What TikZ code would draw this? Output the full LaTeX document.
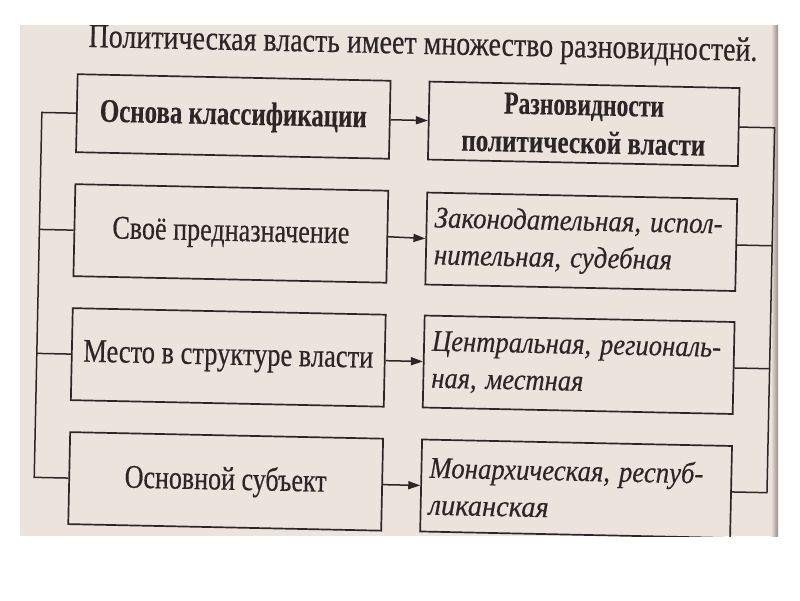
\documentclass[tikz,border=0pt]{standalone}
\usepackage{fontspec}
\setmainfont{Liberation Serif}[UprightFeatures={FakeBold=0.5}, ItalicFeatures={FakeBold=0.4}, BoldFeatures={FakeBold=0.3}]
\usepackage{graphicx}
\usetikzlibrary{arrows.meta}
\definecolor{paper}{RGB}{236,227,221}
\definecolor{ink}{RGB}{45,38,38}
\definecolor{edgeshade}{RGB}{150,140,136}
\newcommand\fitw[2]{\resizebox{#1}{\height}{#2}}
\begin{document}
\begin{tikzpicture}[x=1pt,y=-1pt,
  every node/.style={text=ink},
  lbox/.style={draw=ink, line width=1.7pt, minimum width=313pt, minimum height=92pt, inner sep=0pt, font=\fontsize{33}{38}\selectfont},
  rbox/.style={draw=ink, line width=1.7pt, minimum width=310pt, minimum height=92pt, inner xsep=8pt, inner ysep=0pt},
  itbox/.style={rbox, text width=294pt, align=left, font=\fontsize{30}{37}\selectfont\itshape},
  conn/.style={draw=ink, line width=1.5pt},
  arr/.style={conn, -{Triangle[length=12pt,width=8pt]}}
]
\fill[white] (0,0) rectangle (800,600);
\useasboundingbox (0,0) rectangle (800,600);
\fill[paper] (20,25) rectangle (778,536);
\shade[left color=paper, right color=edgeshade] (771,25) rectangle (778,536);
\begin{scope}
\clip (20,25) rectangle (778,536);
\begin{scope}[rotate around={-1.2:(400,300)}, transform shape]
  \node[anchor=base west, inner sep=0pt, font=\fontsize{34}{40}\selectfont] (title) at (83,53.5)
    {\fitw{669pt}{Политическая власть имеет множество разновидностей.}};

  \node[lbox, minimum height=78pt, font=\fontsize{33}{38}\selectfont\bfseries] (l1) at (229.5,120)
    {\fitw{267pt}{Основа классификации}};
  \node[lbox] (l2) at (229.5,237) {\fitw{237pt}{Своё предназначение}};
  \node[lbox] (l3) at (229.5,361) {\fitw{290pt}{Место в структуре власти}};
  \node[lbox] (l4) at (229.5,485) {\fitw{202pt}{Основной субъект}};

  \node[rbox, minimum height=78pt, align=center, font=\fontsize{32}{38}\selectfont\bfseries] (r1) at (580,120)
    {\fitw{160pt}{Разновидности}\\\fitw{244pt}{политической власти}};
  \node[itbox] (r2) at (580,238)
    {\fitw{288pt}{Законодательная, испол-}\\\fitw{238pt}{нительная, судебная}};
  \node[itbox] (r3) at (580,361)
    {\fitw{289pt}{Центральная, региональ-}\\\fitw{152pt}{ная, местная}};
  \node[itbox] (r4) at (580,485)
    {\fitw{274pt}{Монархическая, респуб-}\\\fitw{120pt}{ликанская}};

  \coordinate (lv) at (38,300);
  \coordinate (rv) at (771,300);

  \draw[arr] (l1.east) -- (r1.west);
  \draw[arr] (l2.east) -- (r2.west);
  \draw[arr] (l3.east) -- (r3.west);
  \draw[arr] (l4.east) -- (r4.west);

  \draw[conn] (l1.west) -- (l1.west -| lv) -- (l4.west -| lv) -- (l4.west);
  \draw[conn] (l2.west) -- (l2.west -| lv);
  \draw[conn] (l3.west) -- (l3.west -| lv);

  \draw[conn] (r1.east) -- (r1.east -| rv) -- (r4.east -| rv) -- (r4.east);
  \draw[conn] (r2.east) -- (r2.east -| rv);
  \draw[conn] (r3.east) -- (r3.east -| rv);
\end{scope}
\end{scope}
\end{tikzpicture}
\end{document}
